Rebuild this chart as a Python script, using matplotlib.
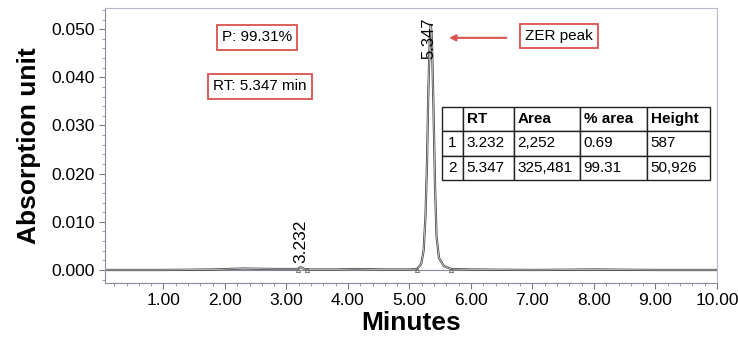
import matplotlib.pyplot as plt
from matplotlib.ticker import MultipleLocator, FormatStrFormatter

plt.rcParams['font.family'] = ['Liberation Sans', 'DejaVu Sans']

# chromatogram trace (minutes, AU)
time = [0.05, 1.0, 1.8, 2.3, 2.8, 3.1, 3.18, 3.232, 3.29, 3.4, 3.8, 4.1, 4.6,
        5.0, 5.12, 5.19, 5.23, 5.26, 5.285, 5.305, 5.33, 5.347, 5.365, 5.39,
        5.415, 5.44, 5.48, 5.56, 5.68, 6.0, 7.0, 8.0, 9.0, 10.0]
signal = [0.0, 0.0, 0.0001, 0.0003, 0.0002, 0.0002, 0.0002, 0.0006, 0.0002,
          0.0001, 0.0001, 0.0002, 0.0001, 0.0001, 0.0002, 0.0012, 0.004,
          0.011, 0.022, 0.036, 0.048, 0.0509, 0.048, 0.034, 0.018, 0.007,
          0.0025, 0.0008, 0.0002, 0.0001, 0.0, 0.0001, 0.0, 0.0]

peak_rt = [3.232, 5.347]
peak_height = [0.000587, 0.050926]
base_marks_t = [3.18, 3.33, 5.12, 5.68]
base_marks_y = [0.0, 0.0, 0.0, 0.0]

col_labels = ['', 'RT', 'Area', '% area', 'Height']
rows = [['1', '3.232', '2,252', '0.69', '587'],
        ['2', '5.347', '325,481', '99.31', '50,926']]

red = '#d9534f'

fig = plt.figure(figsize=(7.38, 3.43), dpi=100)
ax = fig.add_axes([0.1423, 0.175, 0.8292, 0.8017])

ax.axhline(0, color='#8a8a9a', lw=0.8, zorder=1)
ax.plot(time, signal, color='#4a4a4a', lw=1.6, zorder=2)
ax.plot(time, signal, color='white', lw=0.4, zorder=3)
ax.plot(base_marks_t, base_marks_y, ls='none', marker='^', ms=3,
        mfc='none', mec='#666666', mew=0.6, zorder=4)

ax.set_xlim(0.05, 10.0)
ax.set_ylim(-0.0027, 0.0544)
ax.xaxis.set_minor_locator(MultipleLocator(0.2))
ax.yaxis.set_major_locator(MultipleLocator(0.01))
ax.yaxis.set_minor_locator(MultipleLocator(0.002))
ax.xaxis.set_major_formatter(FormatStrFormatter('%.2f'))
ax.yaxis.set_major_formatter(FormatStrFormatter('%.3f'))
ax.set_xticks([1, 2, 3, 4, 5, 6, 7, 8, 9, 10])
ax.tick_params(axis='both', which='major', labelsize=12.5, length=4,
               color='#777788', width=0.8)
ax.tick_params(axis='both', which='minor', length=2.5, color='#8888a0',
               width=0.6)
for side in ['left', 'bottom']:
    ax.spines[side].set_color('#8a8a9a')
for side in ['top', 'right']:
    ax.spines[side].set_color('#b8b8cc')
    ax.spines[side].set_linewidth(0.8)

ax.set_xlabel('Minutes', fontsize=19, fontweight='bold', labelpad=2)
ax.set_ylabel('Absorption unit', fontsize=19, fontweight='bold', labelpad=7)

# retention time labels
ax.text(peak_rt[0], peak_height[0] + 0.0008, '3.232', rotation=90,
        ha='center', va='bottom', fontsize=12.5)
ax.text(peak_rt[1] - 0.03, 0.0438, '5.347', rotation=90,
        ha='center', va='bottom', fontsize=12)

box = dict(boxstyle='square,pad=0.35', fc='white', ec=red, lw=1.3)
ax.text(2.52, 0.0483, 'P: 99.31%', ha='center', va='center', fontsize=11,
        bbox=box)
ax.text(2.57, 0.0381, 'RT: 5.347 min', ha='center', va='center',
        fontsize=11, bbox=box)
ax.text(7.43, 0.0486, 'ZER peak', ha='center', va='center', fontsize=11,
        bbox=box)
ax.annotate('', xy=(5.6, 0.0482), xytext=(6.62, 0.0482),
            arrowprops=dict(arrowstyle='-|>', color=red, lw=1.5,
                            mutation_scale=9))

widths = [21, 51, 66, 67, 63]
total = sum(widths)
tbl = ax.table(cellText=rows, colLabels=col_labels, cellLoc='left',
               colLoc='left', colWidths=[w / total for w in widths],
               bbox=[0.5507, 0.3745, 0.438, 0.2655], zorder=5)
tbl.auto_set_font_size(False)
tbl.set_fontsize(11)
for (r, c), cell in tbl.get_celld().items():
    cell.set_edgecolor('#222222')
    cell.set_linewidth(1.0)
    cell.PAD = 3.5 / widths[c]
    if c == 0:
        cell.get_text().set_ha('center')
        cell._loc = 'center'
    if r == 0:
        cell.get_text().set_fontweight('bold')

fig.savefig('out.png', dpi=100)
